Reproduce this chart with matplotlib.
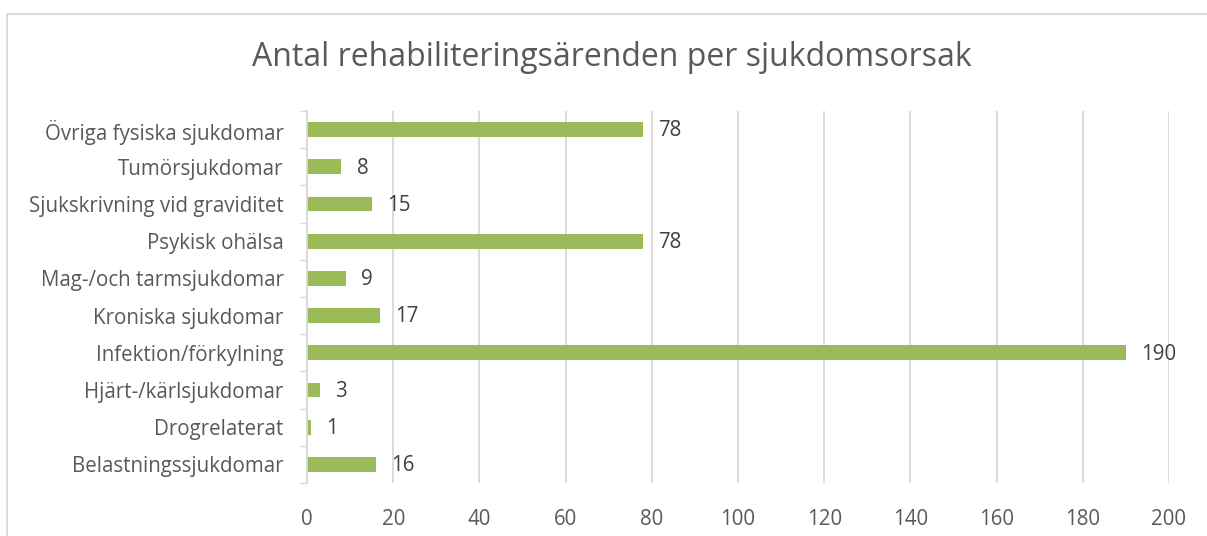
import matplotlib
matplotlib.use("Agg")
import matplotlib.pyplot as plt
from matplotlib.patches import Rectangle

categories = [
    "Belastningssjukdomar",
    "Drogrelaterat",
    "Hjärt-/kärlsjukdomar",
    "Infektion/förkylning",
    "Kroniska sjukdomar",
    "Mag-/och tarmsjukdomar",
    "Psykisk ohälsa",
    "Sjukskrivning vid graviditet",
    "Tumörsjukdomar",
    "Övriga fysiska sjukdomar",
]
values = [16, 1, 3, 190, 17, 9, 78, 15, 8, 78]
x_ticks = [0, 20, 40, 60, 80, 100, 120, 140, 160, 180, 200]

title = "Antal rehabiliteringsärenden per sjukdomsorsak"

BAR_COLOR = "#9BBB59"
TEXT_COLOR = "#595959"
GRID_COLOR = "#D9D9D9"

plt.rcParams["font.family"] = ["Open Sans", "DejaVu Sans"]

W, H = 1207, 536
fig = plt.figure(figsize=(W / 100, H / 100), dpi=100)

# chart area border
fig.patches.append(Rectangle((6.5 / W, -0.1), 1.2, 1.1 - 13.5 / H,
                             transform=fig.transFigure, fill=False,
                             edgecolor=GRID_COLOR, linewidth=1.3))

ax = fig.add_axes([307 / W, (H - 483) / H, 862 / W, 372 / H])
ypos = list(range(len(categories)))
ax.barh(ypos, values, height=0.4, color=BAR_COLOR, zorder=3)

for y, v in zip(ypos, values):
    ax.annotate(str(v), (v, y), xytext=(11, -1), textcoords="offset points",
                va="center", ha="left", fontsize=14.8, color="#404040")

ax.set_xlim(0, 200)
ax.set_ylim(-0.5, len(categories) - 0.5)
ax.set_xticks(x_ticks)
ax.set_yticks(ypos)
ax.set_yticklabels(categories)
ax.set_yticks([i - 0.5 for i in range(len(categories) + 1)], minor=True)

ax.tick_params(axis="x", length=0, labelsize=14.8, labelcolor=TEXT_COLOR, pad=19)
ax.tick_params(axis="y", which="major", length=0, labelsize=14.8,
               labelcolor=TEXT_COLOR, pad=17)
ax.tick_params(axis="y", which="minor", length=5, width=1, color=GRID_COLOR)

ax.grid(axis="x", color=GRID_COLOR, linewidth=1.3, zorder=0)
for side in ["top", "right", "bottom"]:
    ax.spines[side].set_visible(False)
ax.spines["left"].set_color(GRID_COLOR)
ax.spines["left"].set_linewidth(1.3)
ax.spines["left"].set_zorder(4)

fig.text(612 / W, 1 - 58 / H, title, ha="center", va="center",
         fontsize=23, color=TEXT_COLOR)

fig.savefig("out.png", dpi=100)
